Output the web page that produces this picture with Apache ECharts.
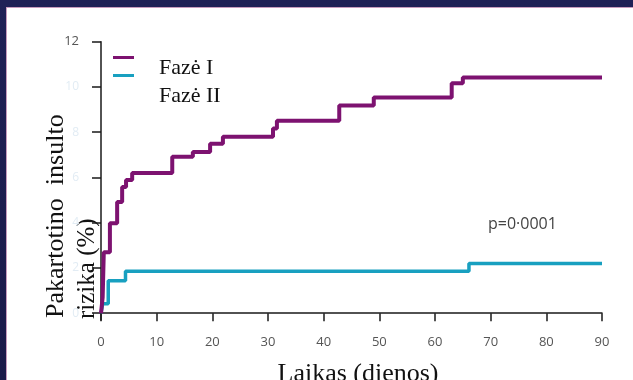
<!DOCTYPE html>
<html>
<head>
<meta charset="utf-8">
<script src="https://cdn.jsdelivr.net/npm/echarts@6/dist/echarts.min.js"></script>
<style>
  html, body { margin: 0; padding: 0; width: 633px; height: 380px; overflow: hidden;
    background: linear-gradient(180deg, #1f2156 0%, #1a1a49 100%); }
  #panel { position: absolute; left: 6px; top: 7px; width: 627px; height: 373px;
    background: #ffffff; border-left: 1px solid #c79bbd; border-top: 1px solid #c79bbd; box-sizing: border-box; }
  #chart { position: absolute; left: 0; top: 0; width: 633px; height: 380px; }
</style>
</head>
<body>
<div id="panel"></div>
<div id="chart"></div>
<script>
// ---- data ----
const seriesNames = ['Fazė I', 'Fazė II'];
const phase1Days = [0, 0.3, 0.5, 1.6, 2.9, 3.8, 4.5, 5.6, 12.8, 16.5, 19.6, 21.9, 30.9, 31.6, 42.8, 49.0, 63.0, 65.0, 90];
const phase1Risk = [0, 0.7, 2.69, 3.98, 4.91, 5.58, 5.89, 6.2, 6.91, 7.13, 7.49, 7.8, 8.16, 8.51, 9.18, 9.53, 10.16, 10.42, 10.42];
const phase2Days = [0, 0.3, 1.3, 4.4, 66.1, 90];
const phase2Risk = [0, 0.42, 1.44, 1.86, 2.2, 2.2];
const xTicks = [0, 10, 20, 30, 40, 50, 60, 70, 80, 90];
const yTicks = [0, 2, 4, 6, 8, 10, 12];
const xTitle = 'Laikas (dienos)';
const yTitleLine1 = 'Pakartotino  insulto';
const yTitleLine2 = 'rizika (%)';
const pValueText = 'p=0·0001';

const zip = (xs, ys) => xs.map((x, i) => [x, ys[i]]);
const purple = '#7d1270';
const cyan = '#18a0c0';

function legendOf(name, top, shift) {
  return {
    data: [name], left: 113, top: top, padding: 0, orient: 'vertical',
    icon: 'rect', itemWidth: 21, itemHeight: 3,
    formatter: n => '{t|' + n + '}',
    textStyle: {
      fontFamily: 'Liberation Serif', fontSize: 22, color: '#111',
      rich: { t: { fontFamily: 'Liberation Serif', fontSize: 22, color: '#111', padding: [shift, 0, 0, 20] } }
    }
  };
}

const chart = echarts.init(document.getElementById('chart'), null, { renderer: 'canvas' });
chart.setOption({
  animation: false,
  backgroundColor: 'transparent',
  grid: { left: 101, right: 31, top: 41.7, bottom: 60, containLabel: false, outerBoundsMode: 'none' },
  title: {
    text: pValueText, left: 488, top: 216, padding: 0,
    textStyle: { fontFamily: 'Open Sans', fontSize: 16, fontWeight: 'normal', color: '#444' }
  },
  legend: [ legendOf(seriesNames[0], 56, 22), legendOf(seriesNames[1], 74, 42) ],
  xAxis: {
    type: 'value', min: 0, max: 90, interval: 10,
    axisLine: { onZero: true, lineStyle: { color: '#1a1a1a', width: 1.5 } },
    axisTick: { show: true, length: 8, lineStyle: { color: '#1a1a1a', width: 1.5 } },
    axisLabel: { margin: 16, fontFamily: 'Open Sans', fontSize: 13, color: '#555',
      customValues: xTicks },
    splitLine: { show: false },
    name: xTitle, nameLocation: 'middle', nameGap: 41,
    nameTextStyle: { fontFamily: 'Liberation Serif', fontSize: 26, color: '#111', padding: [0, 0, 0, 13] }
  },
  yAxis: {
    type: 'value', min: -0.3, max: 12,
    axisLine: { show: true, lineStyle: { color: '#1a1a1a', width: 1.5 } },
    axisTick: { show: true, length: 9, customValues: yTicks, lineStyle: { color: '#1a1a1a', width: 1.5 } },
    axisLabel: {
      customValues: yTicks, margin: 22, fontFamily: 'Open Sans', fontSize: 12,
      formatter: v => (v === 12 ? '{d|' + v + '}' : '{f|' + v + '}'),
      rich: { d: { color: '#555', fontFamily: 'Open Sans', fontSize: 13 },
              f: { color: '#e2ecf4', fontFamily: 'Open Sans', fontSize: 12 } }
    },
    splitLine: { show: false }
  },
  graphic: [
    { type: 'text', x: 43, y: 318, rotation: Math.PI / 2,
      style: { text: yTitleLine1, fontFamily: 'Liberation Serif', fontSize: 26, fill: '#111',
        textAlign: 'left', textVerticalAlign: 'top' } },
    { type: 'text', x: 75, y: 319, rotation: Math.PI / 2,
      style: { text: yTitleLine2, fontFamily: 'Liberation Serif', fontSize: 25, fill: '#111',
        textAlign: 'left', textVerticalAlign: 'top' } }
  ],
  series: [
    { name: seriesNames[0], type: 'line', step: 'end', showSymbol: false, symbol: 'none',
      color: purple, lineStyle: { color: purple, width: 4 }, itemStyle: { color: purple },
      data: zip(phase1Days, phase1Risk), z: 3 },
    { name: seriesNames[1], type: 'line', step: 'end', showSymbol: false, symbol: 'none',
      color: cyan, lineStyle: { color: cyan, width: 3.5 }, itemStyle: { color: cyan },
      data: zip(phase2Days, phase2Risk), z: 2 }
  ]
});
</script>
</body>
</html>
